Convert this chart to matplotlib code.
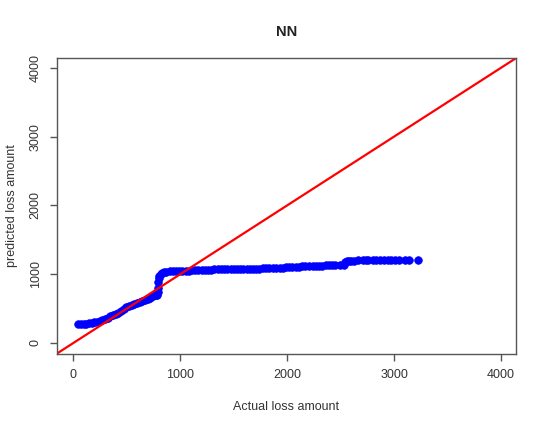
import matplotlib
matplotlib.use('Agg')
import matplotlib.pyplot as plt

plt.rcParams['font.family'] = ['Liberation Sans', 'DejaVu Sans']

# actual vs predicted loss amounts
actual = [47, 70, 95, 120, 145, 170, 195, 220, 245, 270, 295, 320, 345, 370, 395,
          420, 445, 470, 495, 520, 545, 570, 595, 620, 645, 670, 695, 720, 745, 770,
          785, 790, 792, 794, 796, 800, 815, 830, 850, 870, 900, 930, 960, 990, 1020,
          1050, 1080, 1110, 1140, 1170, 1200, 1230, 1260, 1290, 1320, 1350, 1380, 1410,
          1440, 1470, 1500, 1530, 1560, 1590, 1620, 1650, 1680, 1710, 1740, 1770, 1800,
          1830, 1870, 1900, 1935, 1960, 1990, 2020, 2050, 2080, 2110, 2140, 2170, 2200,
          2243, 2270, 2300, 2330, 2360, 2390, 2420, 2450, 2495, 2530, 2545, 2560, 2580,
          2600, 2630, 2660, 2710, 2740, 2760, 2804, 2830, 2869, 2910, 2944, 2970, 3009,
          3050, 3103, 3140, 3224]
predicted = [276, 277, 279, 281, 284, 292, 302, 310, 322, 340, 352, 366, 385, 405, 420,
             440, 460, 488, 520, 540, 552, 566, 580, 594, 606, 625, 645, 660, 680, 690,
             700, 740, 800, 880, 945, 980, 1000, 1015, 1030, 1035, 1040, 1042, 1044, 1046, 1048,
             1050, 1052, 1054, 1056, 1058, 1060, 1062, 1064, 1066, 1068, 1069, 1070, 1071,
             1072, 1073, 1074, 1075, 1076, 1077, 1078, 1079, 1080, 1081, 1082, 1083, 1084,
             1086, 1090, 1091, 1092, 1094, 1097, 1100, 1103, 1106, 1109, 1112, 1114, 1117,
             1120, 1122, 1124, 1126, 1128, 1130, 1132, 1133, 1135, 1140, 1178, 1185, 1193,
             1195, 1198, 1200, 1203, 1203, 1205, 1205, 1206, 1207, 1208, 1208, 1209, 1210,
             1210, 1210, 1211, 1212]

ticks = [0, 1000, 2000, 3000, 4000]
grey = '#555555'

fig = plt.figure(figsize=(5.47, 4.29), dpi=100)
ax = fig.add_axes([0.104, 0.175, 0.839, 0.690])

ax.plot(actual, predicted, 'o', color='blue', ms=5.5, mec='blue', mew=0.5)
ax.axline((0, 0), slope=1, color='red', lw=1.6)

ax.set_xlim(-155, 4140)
ax.set_ylim(-160, 4145)
ax.set_xticks(ticks)
ax.set_yticks(ticks)
ax.set_yticklabels([str(t) for t in ticks], rotation=90, va='center')

for s in ax.spines.values():
    s.set_color(grey)
    s.set_linewidth(1.0)
ax.tick_params(direction='out', length=5, width=1, colors=grey,
               labelcolor='#333333', labelsize=9, pad=6)

ax.set_title('NN', fontsize=10.5, fontweight='bold', pad=16, color='#222222')
ax.set_xlabel('Actual loss amount', fontsize=9, color='#333333', labelpad=14)
ax.set_ylabel('predicted loss amount', fontsize=9, color='#333333', labelpad=8)

fig.savefig('out.png', dpi=100)
